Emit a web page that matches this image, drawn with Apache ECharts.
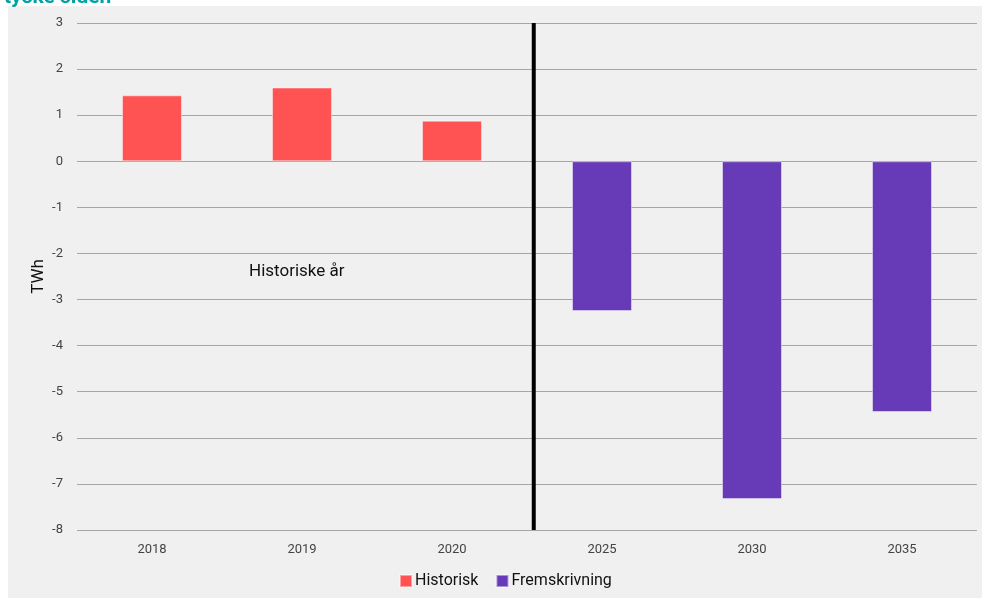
<!DOCTYPE html>
<html>
<head>
<meta charset="utf-8">
<script src="https://cdn.jsdelivr.net/npm/echarts@6/dist/echarts.min.js"></script>
<style>
  html, body { margin: 0; padding: 0; background: #ffffff; }
  #chart { width: 982px; height: 598px; }
</style>
</head>
<body>
<div id="chart"></div>
<script>
// Kraftbalanse per år (TWh)
const years = ['2018', '2019', '2020', '2025', '2030', '2035'];
const historisk = [1.43, 1.60, 0.88, null, null, null];
const fremskrivning = [null, null, null, -3.25, -7.33, -5.44];
const yTicks = { min: -8, max: 3, interval: 1 };
// Skillelinje mellom historiske år og fremskrivning (posisjon i kategoriindeks)
const dividerX = 3.045;

const chart = echarts.init(document.getElementById('chart'), null, { renderer: 'canvas' });

const font = 'Roboto, "Noto Sans", sans-serif';

chart.setOption({
  animation: false,
  backgroundColor: '#ffffff',
  textStyle: { fontFamily: font },
  graphic: [
    {
      type: 'rect', z: -10, silent: true,
      shape: { x: 8, y: 6, width: 974, height: 592 },
      style: { fill: '#f0f0f0' }
    },
    {
      type: 'text', left: 4, top: -13, z: 10,
      style: { text: 'tyske siden', fill: '#00a3a3', font: 'bold 21px ' + font }
    },
    {
      type: 'text', left: 249, top: 263, z: 10,
      style: { text: 'Historiske år', fill: '#111111', font: '17px ' + font }
    }
  ],
  grid: { left: 77, right: 5, top: 23, bottom: 68, containLabel: false },
  legend: {
    bottom: 4,
    left: 394,
    itemWidth: 12,
    itemHeight: 12,
    itemGap: 17,
    icon: 'rect',
    textStyle: { fontSize: 16, color: '#111111', fontFamily: font, padding: [0, 0, 0, -2] },
    data: ['Historisk', 'Fremskrivning']
  },
  xAxis: [
    {
      type: 'category',
      data: years,
      axisLine: { show: false },
      axisTick: { show: false },
      axisLabel: { color: '#444444', fontSize: 13, margin: 13 },
      splitLine: { show: false }
    },
    {
      type: 'value', min: 0, max: years.length, show: false
    }
  ],
  yAxis: {
    type: 'value',
    min: yTicks.min,
    max: yTicks.max,
    interval: yTicks.interval,
    name: 'TWh',
    nameLocation: 'middle',
    nameGap: 30,
    nameMoveOverlap: false,
    nameTextStyle: { color: '#111111', fontSize: 17 },
    axisLine: { show: false },
    axisTick: { show: false },
    axisLabel: { color: '#444444', fontSize: 13, margin: 14 },
    splitLine: { lineStyle: { color: '#a6a6a6', width: 1.2 } }
  },
  series: [
    {
      name: 'Historisk',
      type: 'bar',
      stack: 'kraft',
      barWidth: 60,
      data: historisk,
      itemStyle: { color: '#ff5252', borderColor: 'rgba(255,255,255,0.45)', borderWidth: 1 }
    },
    {
      name: 'Fremskrivning',
      type: 'bar',
      stack: 'kraft',
      barWidth: 60,
      data: fremskrivning,
      itemStyle: { color: '#673ab7', borderColor: 'rgba(255,255,255,0.45)', borderWidth: 1 }
    },
    {
      name: 'skille',
      type: 'line',
      xAxisIndex: 1,
      symbol: 'none',
      silent: true,
      z: 5,
      lineStyle: { color: '#000000', width: 4 },
      data: [[dividerX, yTicks.max], [dividerX, yTicks.min]]
    }
  ]
});
</script>
</body>
</html>
